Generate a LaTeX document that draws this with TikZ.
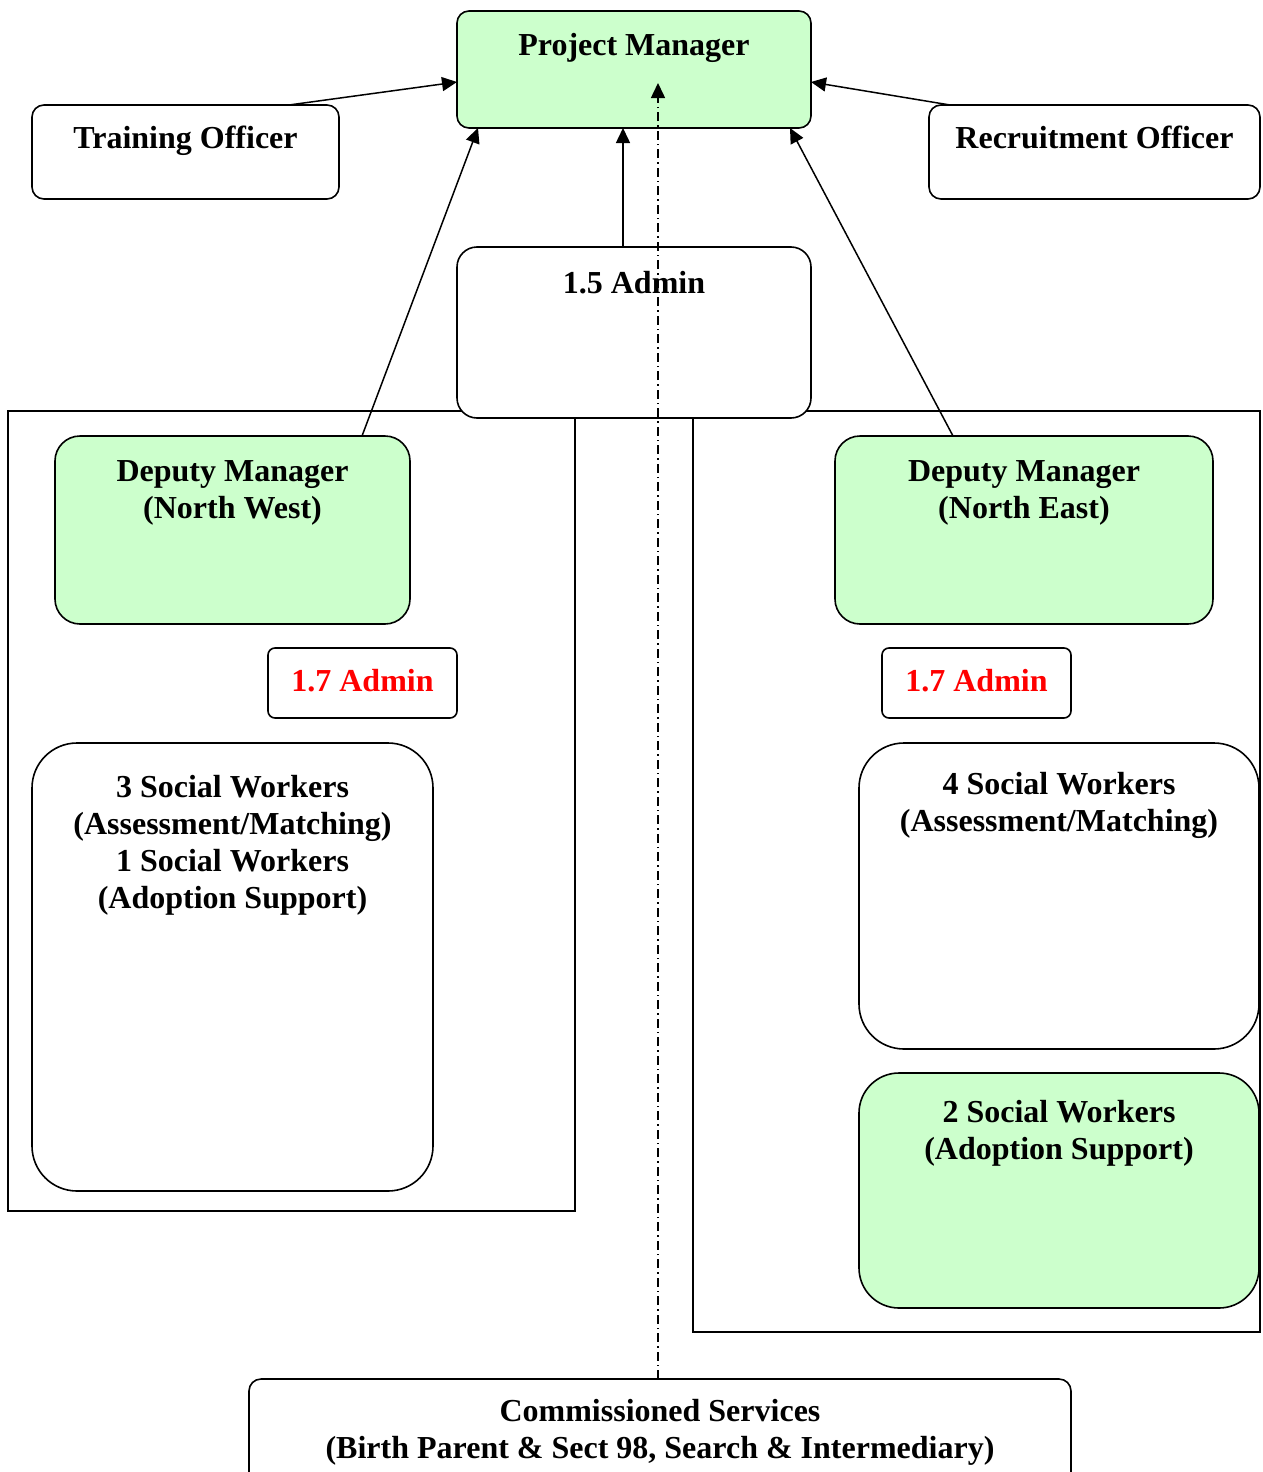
\documentclass[tikz,border=0pt]{standalone}
\usepackage{fontspec}
\setmainfont{Liberation Serif}
\usetikzlibrary{arrows.meta,calc}
\definecolor{boxgreen}{HTML}{CCFFCC}
\definecolor{adminred}{HTML}{FF0000}
\tikzset{
  box/.style={draw, line width=1.6pt, fill=white, inner sep=0pt, outer sep=0pt},
  gbox/.style={box, fill=boxgreen},
  frame/.style={draw, line width=1.6pt, inner sep=0pt, outer sep=0pt},
  txt/.style={font=\fontsize{32}{37}\selectfont\bfseries, align=center, inner sep=0pt, outer sep=0pt, anchor=north},
  conn/.style={line width=1.5pt, -{Triangle[length=15pt,width=14pt]}},
  dashconn/.style={line width=1.5pt, dash pattern=on 9pt off 4pt on 1.5pt off 4pt, -{Triangle[length=15pt,width=14pt]}}
}
\begin{document}
\begin{tikzpicture}[x=1pt,y=-1pt]
\useasboundingbox (0,0) rectangle (1263,1472);
\clip (0,0) rectangle (1263,1472);
\fill[white] (0,0) rectangle (1263,1472);
% frames
\node[frame, minimum width=567pt, minimum height=800pt] (lframe) at (291.5,811) {};
\node[frame, minimum width=567pt, minimum height=921pt] (rframe) at (976.5,871.5) {};
% top boxes
\node[gbox, rounded corners=12pt, minimum width=354pt, minimum height=117pt,
  label={[txt,yshift=-22pt]north:{Project Manager}}] (pm) at (634,69.5) {};
\node[box, rounded corners=12pt, minimum width=307pt, minimum height=94pt,
  label={[txt,yshift=-21pt]north:{Training Officer}}] (train) at (185.5,152) {};
\node[box, rounded corners=12pt, minimum width=331pt, minimum height=94pt,
  label={[txt,yshift=-21pt]north:{Recruitment Officer}}] (recr) at (1094.5,152) {};
\node[box, rounded corners=20pt, minimum width=354pt, minimum height=171pt,
  label={[txt,yshift=-24pt]north:{1.5 Admin}}] (adm) at (634,332.5) {};
% deputies
\node[gbox, rounded corners=25pt, minimum width=355pt, minimum height=188pt,
  label={[txt,yshift=-25pt]north:{Deputy Manager\\(North West)}}] (dnw) at (232.5,530) {};
\node[gbox, rounded corners=25pt, minimum width=378pt, minimum height=188pt,
  label={[txt,yshift=-25pt]north:{Deputy Manager\\(North East)}}] (dne) at (1024,530) {};
% admins
\node[box, rounded corners=7pt, minimum width=189pt, minimum height=70pt,
  label={[txt,text=adminred,yshift=-21pt]north:{1.7 Admin}}] (al) at (362.5,683) {};
\node[box, rounded corners=7pt, minimum width=189pt, minimum height=70pt,
  label={[txt,text=adminred,yshift=-21pt]north:{1.7 Admin}}] (ar) at (976.5,683) {};
% social workers
\node[box, rounded corners=45pt, minimum width=401pt, minimum height=448pt,
  label={[txt,yshift=-32pt]north:{3 Social Workers\\(Assessment/Matching)\\1 Social Workers\\(Adoption Support)}}] (swl) at (232.5,967) {};
\node[box, rounded corners=45pt, minimum width=400pt, minimum height=306pt,
  label={[txt,yshift=-29pt]north:{4 Social Workers\\(Assessment/Matching)}}] (swr) at (1059,896) {};
\node[gbox, rounded corners=40pt, minimum width=400pt, minimum height=235pt,
  label={[txt,yshift=-27pt]north:{2 Social Workers\\(Adoption Support)}}] (swa) at (1059,1190.5) {};
% commissioned services
\node[box, rounded corners=12pt, minimum width=822pt, minimum height=106pt,
  label={[txt,yshift=-20pt]north:{Commissioned Services\\(Birth Parent \& Sect 98, Search \& Intermediary)}}] (comm) at (660,1432) {};
% connectors
\draw[conn] ([xshift=103.5pt]train.north) -- ([yshift=-12.5pt]pm.west);
\draw[conn] ([xshift=-144.5pt]recr.north) -- ([yshift=-12.5pt]pm.east);
\draw[conn] ([xshift=-11pt]adm.north) -- ([xshift=-11pt]pm.south);
\draw[conn] ([xshift=129.5pt]dnw.north) -- ([xshift=-156pt]pm.south);
\draw[conn] ([xshift=-71pt]dne.north) -- ([xshift=156pt]pm.south);
\coordinate (dtip) at ([xshift=24pt,yshift=-13.5pt]pm.center);
\draw[dashconn] ([xshift=-2pt]comm.north) -- (dtip);
\end{tikzpicture}
\end{document}
